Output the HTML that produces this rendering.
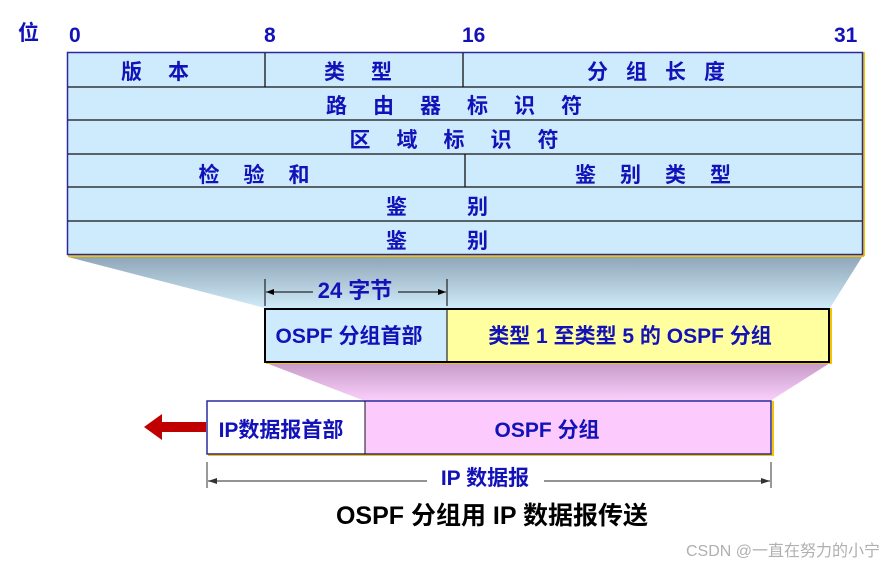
<!DOCTYPE html>
<html><head><meta charset="utf-8"><style>
body{margin:0;background:#fff;}
svg text{font-family:"Liberation Sans","Noto Sans CJK SC",sans-serif;font-weight:bold;}
</style></head><body>
<svg width="895" height="569" viewBox="0 0 895 569" xmlns="http://www.w3.org/2000/svg">
<defs>
<linearGradient id="g1" x1="0" y1="0" x2="0" y2="1"><stop offset="0" stop-color="#8fa6b8"/><stop offset="1" stop-color="#cfeaf8"/></linearGradient>
<linearGradient id="g2" x1="0" y1="0" x2="0" y2="1"><stop offset="0" stop-color="#c79ac8"/><stop offset="1" stop-color="#fbd0fb"/></linearGradient>
</defs>
<g fill="#1212b8" font-size="21">
<text x="18" y="40">位</text>
<text x="69" y="42">0</text>
<text x="264" y="42">8</text>
<text x="462" y="42">16</text>
<text x="834" y="42">31</text>
</g>
<polygon points="68,257 862,257 830,308 265,308" fill="url(#g1)"/>
<line x1="68" y1="256" x2="864" y2="256" stroke="#f5c400" stroke-width="2"/>
<line x1="864" y1="52" x2="864" y2="256" stroke="#f5c400" stroke-width="2"/>
<rect x="67.5" y="52.5" width="795" height="202" fill="#cdebfd" stroke="#2a2a9a" stroke-width="1.5"/>
<g stroke="#111" stroke-width="1.3">
<line x1="68" y1="87" x2="862" y2="87"/><line x1="68" y1="120" x2="862" y2="120"/>
<line x1="68" y1="154" x2="862" y2="154"/><line x1="68" y1="187" x2="862" y2="187"/>
<line x1="68" y1="221" x2="862" y2="221"/>
<line x1="265" y1="53" x2="265" y2="87"/><line x1="463" y1="53" x2="463" y2="87"/>
<line x1="465" y1="154" x2="465" y2="187"/>
</g>
<g fill="#1212b8" font-size="21" text-anchor="middle">
<text x="168" y="79" letter-spacing="26">版本</text>
<text x="371" y="79" letter-spacing="26">类型</text>
<text x="665" y="79" letter-spacing="18">分组长度</text>
<text x="467" y="113" letter-spacing="26">路由器标识符</text>
<text x="467" y="147" letter-spacing="26">区域标识符</text>
<text x="266" y="182" letter-spacing="24">检验和</text>
<text x="665" y="182" letter-spacing="24">鉴别类型</text>
<text x="467" y="214" letter-spacing="60">鉴别</text>
<text x="467" y="248" letter-spacing="60">鉴别</text>
</g>
<g stroke="#000" stroke-width="1">
<line x1="265" y1="279" x2="265" y2="306"/><line x1="447" y1="279" x2="447" y2="306"/>
<line x1="266" y1="292" x2="313" y2="292"/><line x1="398" y1="292" x2="446" y2="292"/>
</g>
<polygon points="266,292 274,289 274,295" fill="#000"/><polygon points="446,292 438,289 438,295" fill="#000"/>
<text x="355" y="298" font-size="22" fill="#1212b8" text-anchor="middle">24 字节</text>
<polygon points="266,363 830,363 770,401 365,401" fill="url(#g2)"/>
<line x1="266" y1="363" x2="832" y2="363" stroke="#f5c400" stroke-width="2"/>
<line x1="831" y1="308" x2="831" y2="363" stroke="#f5c400" stroke-width="2"/>
<rect x="265" y="309" width="182" height="53" fill="#cdebfd"/>
<rect x="447" y="309" width="382" height="53" fill="#ffffa0"/>
<rect x="265" y="309" width="564" height="53" fill="none" stroke="#000" stroke-width="2"/>
<line x1="447" y1="309" x2="447" y2="362" stroke="#000" stroke-width="1"/>
<text x="349" y="343" font-size="21" fill="#1212b8" text-anchor="middle">OSPF 分组首部</text>
<text x="630" y="343" font-size="21" fill="#1212b8" text-anchor="middle">类型 1 至类型 5 的 OSPF 分组</text>
<line x1="208" y1="455" x2="774" y2="455" stroke="#f5c400" stroke-width="2"/>
<line x1="773" y1="401" x2="773" y2="455" stroke="#f5c400" stroke-width="2"/>
<rect x="207" y="401" width="158" height="53" fill="#fff"/>
<rect x="365" y="401" width="406" height="53" fill="#fccafc"/>
<rect x="207" y="401" width="564" height="53" fill="none" stroke="#2a2a9a" stroke-width="1.5"/>
<line x1="365" y1="401" x2="365" y2="454" stroke="#111" stroke-width="1"/>
<text x="281" y="437" font-size="21" fill="#1212b8" text-anchor="middle">IP数据报首部</text>
<text x="547" y="437" font-size="21" fill="#1212b8" text-anchor="middle">OSPF 分组</text>
<rect x="160" y="422" width="46" height="10" fill="#c00000"/>
<polygon points="144,427 162,414 162,440" fill="#c00000"/>
<g stroke="#555" stroke-width="1.2">
<line x1="207" y1="462" x2="207" y2="488"/><line x1="771" y1="462" x2="771" y2="488"/>
<line x1="208" y1="481" x2="427" y2="481"/><line x1="544" y1="481" x2="770" y2="481"/>
</g>
<polygon points="208,481 217,478 217,484" fill="#333"/><polygon points="770,481 761,478 761,484" fill="#333"/>
<text x="485" y="485" font-size="21" fill="#1212b8" text-anchor="middle">IP 数据报</text>
<text x="492" y="524" font-size="25" fill="#000" text-anchor="middle">OSPF 分组用 IP 数据报传送</text>
<text x="880" y="556" font-size="16" fill="#b0b0b0" text-anchor="end" style="font-weight:normal">CSDN @一直在努力的小宁</text>
</svg>
</body></html>
